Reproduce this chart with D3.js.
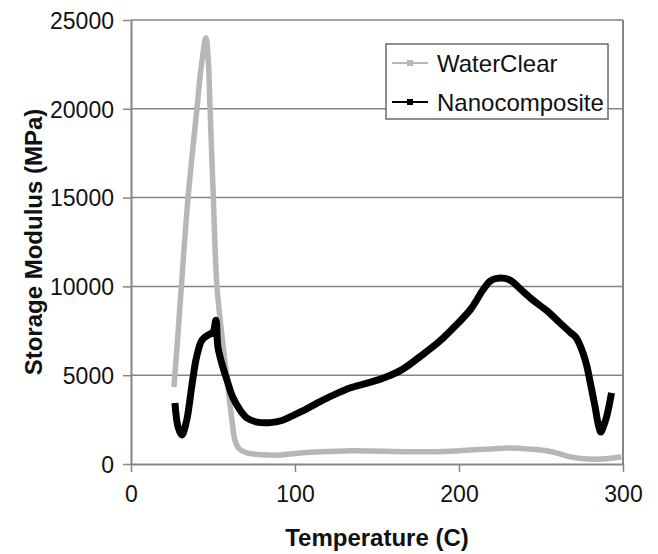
<!DOCTYPE html>
<html>
<head>
<meta charset="utf-8">
<script src="https://cdn.jsdelivr.net/npm/d3@7"></script>
<style>
    body{ margin:0; background:#fff; }
    svg text{ font-family: 'Liberation Sans', Arial, sans-serif; }
</style>
</head>
<body>
<svg id="chart" width="658" height="554"></svg>
<script>
var xTicks = [0, 100, 200, 300],
    yTicks = [0, 5000, 10000, 15000, 20000, 25000];

var seriesNames = ['WaterClear', 'Nanocomposite'];

// WaterClear (grey)
var waterTemp = [26.2, 28, 30.7, 34.8, 40.2, 43, 45.7, 47.2, 48.2, 50, 52.4, 55.5, 58.3, 61.5, 63.5, 66, 70.7,
        80, 90, 105, 120, 135, 155, 176, 195, 207, 220, 231, 245, 254, 262, 268, 278, 290, 299],
    waterVal = [4340, 6500, 10000, 15000, 20000, 22500, 23990, 22600, 20000, 15500, 10000, 7200, 5000, 2500, 1300, 850, 620,
        520, 500, 640, 700, 750, 720, 690, 720, 790, 850, 900, 820, 730, 560, 400, 280, 300, 390];

// Nanocomposite (black)
var nanoTemp = [26.8, 28.7, 31, 34, 37, 40, 43.3, 47, 50, 51.8, 53, 56, 58.5, 62, 66.5, 70.7, 76.8, 85, 92, 97,
        105, 117, 125, 133.5, 144, 154, 165, 177, 188, 198, 207, 214.6, 219, 223, 228, 232, 238,
        245, 254, 261.6, 268, 271.5, 275.6, 278, 280, 283, 285, 286.5, 288, 290, 293],
    nanoVal = [3430, 2080, 1630, 2480, 4340, 6030, 6980, 7260, 7430, 8100, 6590, 5460, 4730, 3770, 3040, 2590, 2360, 2330, 2450, 2650,
        3000, 3600, 3950, 4280, 4550, 4840, 5300, 6100, 6900, 7800, 8700, 9800, 10300, 10450, 10450, 10300, 9800,
        9230, 8600, 7940, 7400, 7100, 6250, 5500, 4600, 3210, 2200, 1800, 2100, 2650, 4000];

(function(){
    'use strict';

    var margin = { top: 20, right: 35, bottom: 90, left: 131 },
        width = 658 - margin.left - margin.right,
        height = 554 - margin.top - margin.bottom,
        grid = '#858585',
        $svg = d3.select('#chart'),
        $g = $svg.append('g')
            .attr('transform', 'translate(' + margin.left + ',' + margin.top + ')');

    var x = d3.scaleLinear().domain([0, 300]).range([0, width]),
        y = d3.scaleLinear().domain([0, 25000]).range([height, 0]);

    function zip( xs, ys ){
        return xs.map(function( t, i ){ return [t, ys[i]]; });
    }

    var series = [
        { name: seriesNames[0], data: zip(waterTemp, waterVal), color: '#b7b7b7', width: 5.5 },
        { name: seriesNames[1], data: zip(nanoTemp, nanoVal), color: '#000', width: 7 }
    ];

    // grid lines
    $g.selectAll('line.grid')
        .data(yTicks.slice(1))
        .enter().append('line')
        .attr('class', 'grid')
        .attr('x1', 0).attr('x2', width)
        .attr('y1', function( d ){ return y(d); })
        .attr('y2', function( d ){ return y(d); })
        .attr('stroke', grid)
        .attr('stroke-width', 1.5);

    // right border of plot area
    $g.append('line')
        .attr('x1', width).attr('x2', width)
        .attr('y1', 0).attr('y2', height)
        .attr('stroke', grid)
        .attr('stroke-width', 2);

    var line = d3.line()
        .x(function( d ){ return x(d[0]); })
        .y(function( d ){ return y(d[1]); })
        .curve(d3.curveCatmullRom.alpha(0.5));

    $g.selectAll('path.series')
        .data(series)
        .enter().append('path')
        .attr('class', 'series')
        .attr('d', function( d ){ return line(d.data); })
        .attr('fill', 'none')
        .attr('stroke', function( d ){ return d.color; })
        .attr('stroke-width', function( d ){ return d.width; })
        .attr('stroke-linejoin', 'round')
        .attr('stroke-linecap', 'butt');

    // axes
    var fmt = d3.format('d');

    var $xAxis = $g.append('g')
        .attr('transform', 'translate(0,' + height + ')')
        .call(d3.axisBottom(x).tickValues(xTicks).tickFormat(fmt).tickSize(8).tickPadding(10).tickSizeOuter(0));

    var $yAxis = $g.append('g')
        .call(d3.axisLeft(y).tickValues(yTicks).tickFormat(fmt).tickSize(8).tickPadding(9).tickSizeOuter(0));

    [$xAxis, $yAxis].forEach(function( $a ){
        $a.select('.domain').attr('stroke', grid).attr('stroke-width', 2);
        $a.selectAll('.tick line').attr('stroke', grid).attr('stroke-width', 1.5);
        $a.selectAll('.tick text')
            .attr('fill', '#111')
            .style('font-size', '23px');
    });
    $xAxis.selectAll('.tick text').attr('dy', '0.85em');
    $yAxis.selectAll('.tick text').attr('dy', '0.36em');

    // axis titles
    $svg.append('text')
        .attr('x', margin.left + width / 2)
        .attr('y', 546)
        .attr('text-anchor', 'middle')
        .style('font-size', '24px')
        .style('font-weight', 'bold')
        .attr('fill', '#111')
        .text('Temperature (C)');

    $svg.append('text')
        .attr('transform', 'translate(42,' + (margin.top + height / 2) + ') rotate(-90)')
        .attr('text-anchor', 'middle')
        .style('font-size', '24px')
        .style('font-weight', 'bold')
        .attr('fill', '#111')
        .text('Storage Modulus (MPa)');

    // legend
    var $legend = $svg.append('g')
        .attr('transform', 'translate(386,44)');

    $legend.append('rect')
        .attr('width', 222).attr('height', 75)
        .attr('fill', '#fff')
        .attr('stroke', '#6a6a6a')
        .attr('stroke-width', 1.5);

    var $items = $legend.selectAll('g.item')
        .data(series)
        .enter().append('g')
        .attr('class', 'item')
        .attr('transform', function( d, i ){ return 'translate(0,' + (19 + i * 39) + ')'; });

    $items.append('line')
        .attr('x1', 6).attr('x2', 42)
        .attr('stroke', function( d ){ return d.color; })
        .attr('stroke-width', 2);

    $items.append('rect')
        .attr('x', 21).attr('y', -3)
        .attr('width', 6).attr('height', 6)
        .attr('fill', function( d ){ return d.color; });

    $items.append('text')
        .attr('x', 51)
        .attr('dy', '0.36em')
        .style('font-size', '24px')
        .attr('fill', '#111')
        .text(function( d ){ return d.name; });
})();
</script>
</body>
</html>
